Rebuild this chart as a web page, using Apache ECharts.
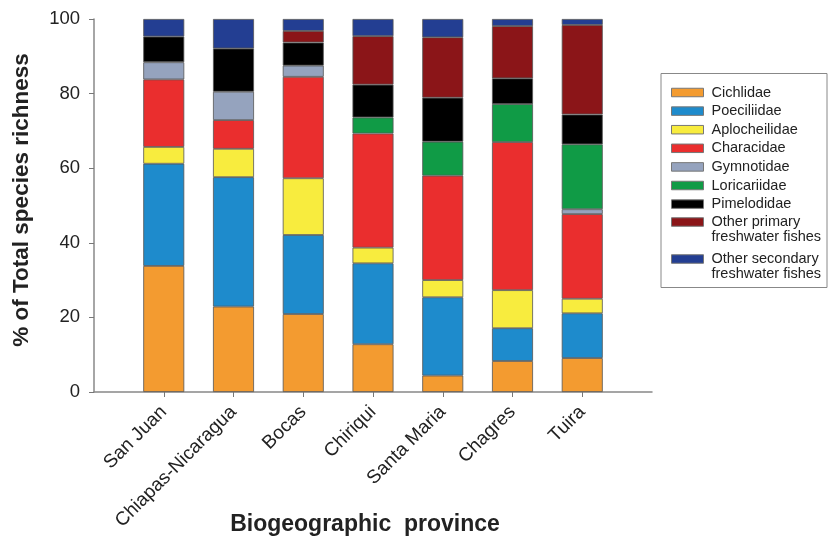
<!DOCTYPE html>
<html><head><meta charset="utf-8">
<script src="https://cdn.jsdelivr.net/npm/echarts@6/dist/echarts.min.js"></script>
<style>html,body{margin:0;padding:0;background:#fff}#c{width:832px;height:543px}</style>
</head><body><div id="c"></div>
<script>
const categories = ['San Juan', 'Chiapas-Nicaragua', 'Bocas', 'Chiriqui', 'Santa Maria', 'Chagres', 'Tuira'];
const yTicks = [0, 20, 40, 60, 80, 100];
const cichlidae      = [33.8, 22.9, 20.9, 12.8, 4.4, 8.3, 9.1];
const poeciliidae    = [27.4, 34.7, 21.2, 21.7, 21.0, 8.8, 12.0];
const aplocheilidae  = [4.5, 7.6, 15.2, 4.2, 4.6, 10.2, 3.9];
const characidae     = [18.1, 7.7, 27.2, 30.6, 28.0, 39.7, 22.7];
const gymnotidae     = [4.6, 7.6, 3.0, 0, 0, 0, 1.3];
const loricariidae   = [0, 0, 0, 4.3, 9.1, 10.2, 17.4];
const pimelodidae    = [6.9, 11.6, 6.2, 8.8, 11.8, 6.9, 8.0];
const otherPrimary   = [0, 0, 3.1, 13.0, 16.2, 14.0, 24.0];
const otherSecondary = [4.7, 7.9, 3.2, 4.6, 4.9, 1.9, 1.6];

const seriesDefs = [
  ['Cichlidae', cichlidae, '#F39B30'],
  ['Poeciliidae', poeciliidae, '#1E8BCC'],
  ['Aplocheilidae', aplocheilidae, '#F8EC3E'],
  ['Characidae', characidae, '#EA2E2E'],
  ['Gymnotidae', gymnotidae, '#95A3BE'],
  ['Loricariidae', loricariidae, '#109B46'],
  ['Pimelodidae', pimelodidae, '#000000'],
  ['Other primary\nfreshwater fishes', otherPrimary, '#8B1518'],
  ['Other secondary\nfreshwater fishes', otherSecondary, '#233E92']
];

const FONT = 'Liberation Sans';
const xData = [''].concat(categories, ['']);
const pad = arr => [null].concat(arr.map(v => v === 0 ? null : v), [null]);

const series = seriesDefs.map(([name, vals, color]) => ({
  name: name,
  type: 'bar',
  stack: 'all',
  barWidth: 41,
  data: pad(vals),
  itemStyle: { color: color, borderColor: '#555', borderWidth: 0.8 },
  emphasis: { disabled: true }
}));

const legendBase = {
  orient: 'vertical',
  left: 671,
  padding: 0,
  itemWidth: 32,
  itemHeight: 8.5,
  icon: 'rect',
  selectedMode: false,
  itemStyle: { borderColor: '#777', borderWidth: 1 }
};

const chart = echarts.init(document.getElementById('c'));
chart.setOption({
  animation: false,
  backgroundColor: '#fff',
  textStyle: { fontFamily: FONT },
  grid: { left: 94, right: 180, top: 19, bottom: 151, containLabel: false, outerBoundsMode: 'none' },
  xAxis: {
    type: 'category',
    data: xData,
    boundaryGap: false,
    name: 'Biogeographic  province',
    nameLocation: 'middle',
    nameGap: 121,
    nameMoveOverlap: false,
    nameTextStyle: { fontFamily: FONT, fontWeight: 'bold', fontSize: 23, color: '#222', padding: [0, 16, 0, 0] },
    axisLine: { lineStyle: { color: '#888', width: 1.5 } },
    axisTick: { show: true, length: 5, lineStyle: { color: '#777' }, interval: (i) => i > 0 && i < xData.length - 1 },
    axisLabel: { interval: 0, rotate: 45, fontSize: 19, color: '#222', margin: 17, fontFamily: FONT }
  },
  yAxis: {
    type: 'value',
    min: yTicks[0],
    max: yTicks[yTicks.length - 1],
    interval: 20,
    name: '% of Total species richness',
    nameLocation: 'middle',
    nameGap: 61,
    nameMoveOverlap: false,
    nameTextStyle: { fontFamily: FONT, fontWeight: 'bold', fontSize: 22.5, color: '#222', padding: [0, 0, 0, 11] },
    axisLine: { show: true, lineStyle: { color: '#888', width: 1.5 } },
    axisTick: { show: true, length: 5, lineStyle: { color: '#777' } },
    splitLine: { show: false },
    axisLabel: { fontSize: 18.5, color: '#222', margin: 14, fontFamily: FONT }
  },
  legend: [
    Object.assign({}, legendBase, {
      top: 83.2, itemGap: 0,
      data: seriesDefs.slice(0, 7).map(d => d[0]),
      textStyle: { fontFamily: FONT, fontSize: 14.5, lineHeight: 18.6, color: '#222', padding: [0, 0, 0, 3] }
    }),
    Object.assign({}, legendBase, {
      top: 199.5,
      data: [seriesDefs[7][0]],
      formatter: n => '\n' + n,
      textStyle: { fontFamily: FONT, fontSize: 14.5, lineHeight: 15, color: '#222', padding: [0, 0, 0, 3] }
    }),
    Object.assign({}, legendBase, {
      top: 236.5,
      data: [seriesDefs[8][0]],
      formatter: n => '\n' + n,
      textStyle: { fontFamily: FONT, fontSize: 14.5, lineHeight: 15, color: '#222', padding: [0, 0, 0, 3] }
    })
  ],
  graphic: [{
    type: 'rect', silent: true,
    shape: { x: 661, y: 73.5, width: 166, height: 214 },
    style: { fill: 'none', stroke: '#888', lineWidth: 1 }
  }],
  series: series
});
</script></body></html>
